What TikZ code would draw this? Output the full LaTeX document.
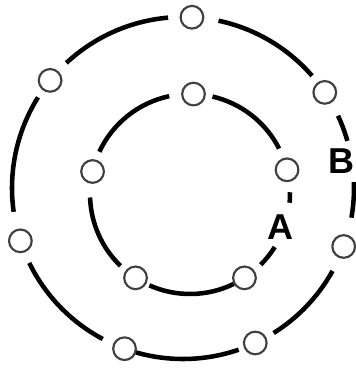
\documentclass[tikz,border=0pt]{standalone}
\usepackage{fontspec}
\setsansfont{Liberation Sans}
\usepackage{tikz}
\usetikzlibrary{calc}

\begin{document}
\begin{tikzpicture}[
    x=0.75pt, y=0.75pt,
    ring/.style={line width=3.4pt, black},
    hole/.style={draw=black!75, line width=1.6pt, circle, minimum size=17pt, inner sep=0pt, fill=white},
    tag/.style={font=\sffamily\bfseries\fontsize{27}{27}\selectfont, inner sep=0pt}
]
    \useasboundingbox (0,0) rectangle (356,371);
    \clip (0,0) rectangle (356,371);

    \coordinate (oc) at (183,183);
    \coordinate (ic) at (190,177);

    % outer ring
    \foreach \s/\e in {95/133, 148/188, 206/242, 254/289, 302/331, 350/362, 16/25, 41/78}
        \draw[ring] (oc) ++(\s:171) arc[start angle=\s, end angle=\e, radius=171];
    % inner ring
    \foreach \s/\e in {102/155, 182/226, 246/296, 315/328, 355/361, 27/77}
        \draw[ring] (ic) ++(\s:100) arc[start angle=\s, end angle=\e, radius=100];

    \foreach \a [count=\i] in {87, 141, 198, 250, 295, 340, 34}
        \node[hole] (o\i) at ($(oc)+(\a:171)$) {};
    \foreach \a [count=\i] in {88, 167, 237, 303, 14}
        \node[hole] (i\i) at ($(ic)+(\a:100)$) {};

    \node[tag] (A) at ($(ic)+(340:96)$) {A};
    \node[tag, anchor=east] (B) at (355,210) {B};
\end{tikzpicture}
\end{document}
